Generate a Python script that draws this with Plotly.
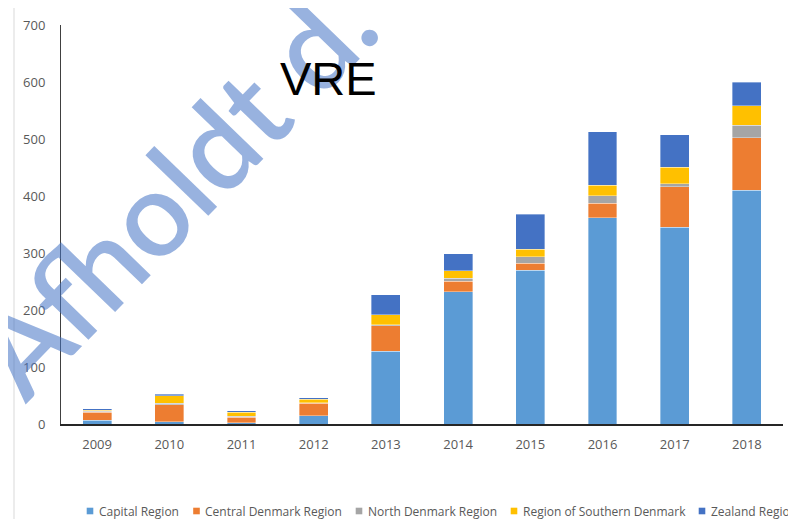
import plotly.graph_objects as go

years = ["2009", "2010", "2011", "2012", "2013", "2014", "2015", "2016", "2017", "2018"]
capital = [7, 4, 2, 14.6, 128, 231.6, 270, 362, 345.6, 410]
central = [13.5, 30, 10, 21.5, 44, 19, 12, 25, 71, 92]
north = [2, 2, 2, 1.4, 2, 5, 11, 13.5, 5, 22]
southern = [2, 14, 6.5, 5.6, 18, 13.5, 14, 18, 29, 34.5]
zealand = [2.5, 2.5, 2.5, 3, 35, 30, 61, 94, 57, 41]

series_names = ["Capital Region", "Central Denmark Region", "North Denmark Region",
                "Region of Southern Denmark", "Zealand Region"]
series_values = [capital, central, north, southern, zealand]
colors = ["#5B9BD5", "#ED7D31", "#A5A5A5", "#FFC000", "#4472C4"]

# page body has an 8px margin; work in screen pixels and convert
OFF = 8
W, H = 796 - OFF, 519 - OFF
PL, PR, PT, PB = 61, 783, 25, 424  # plot area in screen pixels
L, T = PL - OFF, PT - OFF
R, B = W - (PR - OFF), H - (PB - OFF)
pw, ph = PR - PL, PB - PT

def px_x(p):
    return (p - PL) / pw

def px_y(p):
    return (PB - p) / ph

fig = go.Figure()
for name, vals, c in zip(series_names, series_values, colors):
    fig.add_trace(go.Bar(x=years, y=vals, name=name,
                         marker=dict(color=c, line=dict(color="rgba(255,255,255,0.6)", width=0.6)),
                         width=0.4, showlegend=False))

fig.update_layout(
    barmode="stack",
    width=W, height=H,
    margin=dict(l=L, r=R, t=T, b=B, autoexpand=False),
    paper_bgcolor="white", plot_bgcolor="white",
    font=dict(family="Open Sans", size=12, color="#595959"),
    xaxis=dict(showgrid=False, showline=True, linecolor="#262626", linewidth=1.5,
               ticks="outside", ticklen=8, tickcolor="rgba(0,0,0,0)",
               tickfont=dict(size=13, color="#595959")),
    yaxis=dict(range=[0, 700], dtick=100, showgrid=False, showline=True, linecolor="#404040", linewidth=1,
               ticks="outside", ticklen=12, tickcolor="rgba(0,0,0,0)", zeroline=False,
               tickfont=dict(size=13, color="#595959")),
)

# light border line at left
fig.add_shape(type="line", xref="paper", yref="paper", x0=px_x(14), x1=px_x(14), y0=px_y(8), y1=px_y(525),
              line=dict(color="#d9d9d9", width=1))

# watermark
fig.add_annotation(text="Afholdt d.", xref="paper", yref="paper", x=px_x(172), y=px_y(187),
                   xanchor="center", yanchor="middle", showarrow=False, textangle=-46,
                   font=dict(family="Lato", size=118, weight=600, color="rgba(68,114,196,0.55)"))

# title
fig.add_annotation(text="VRE", xref="paper", yref="paper", x=px_x(328), y=px_y(78),
                   xanchor="center", yanchor="middle", showarrow=False,
                   font=dict(family="Liberation Sans", size=47, color="black"))

# legend (manual)
sq_x = [90, 196.5, 359, 514, 702]
tx_x = [96.5, 203, 365.5, 520.5, 708.5]
ly = 511
for name, c, sx, tx in zip(series_names, colors, sq_x, tx_x):
    fig.add_shape(type="rect", xref="paper", yref="paper",
                  x0=px_x(sx - 3.3), x1=px_x(sx + 3.3), y0=px_y(ly + 3.3), y1=px_y(ly - 3.3),
                  fillcolor=c, line=dict(width=0))
    fig.add_annotation(text=name, xref="paper", yref="paper", x=px_x(tx), y=px_y(ly),
                       xanchor="left", yanchor="middle", showarrow=False,
                       font=dict(family="Open Sans", size=12, color="#595959"))

fig.write_html("out.html")
